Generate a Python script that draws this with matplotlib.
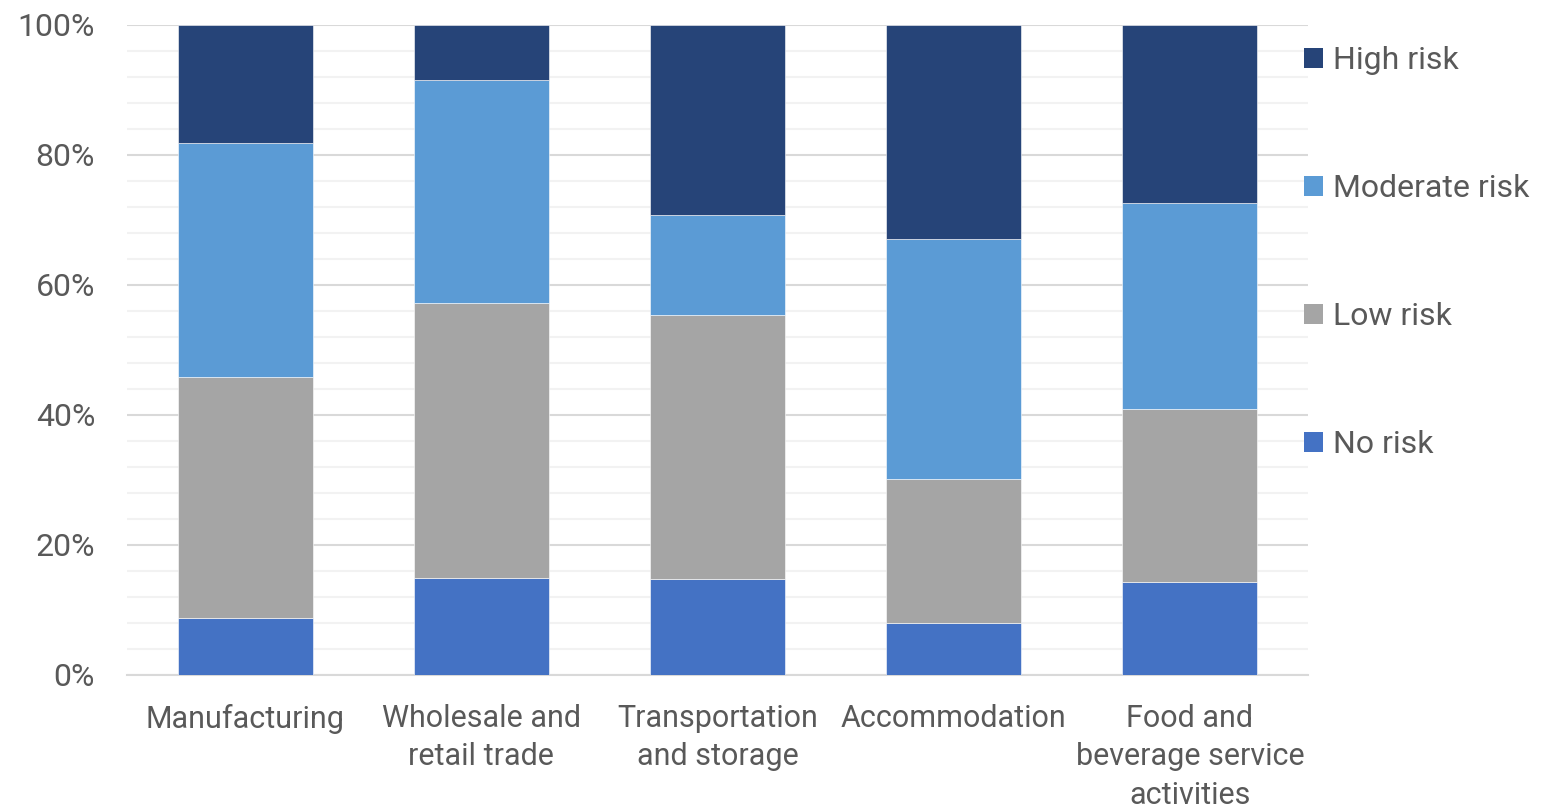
# 業種別のリスク構成比（100%積み上げ棒グラフ）
import matplotlib.pyplot as plt
import numpy as np
from matplotlib.patches import Patch
from matplotlib.ticker import MultipleLocator, PercentFormatter

plt.rcParams["font.family"] = ["Roboto", "DejaVu Sans"]

categories = ["Manufacturing", "Wholesale and\nretail trade", "Transportation\nand storage",
              "Accommodation", "Food and\nbeverage service\nactivities"]
series_names = ["No risk", "Low risk", "Moderate risk", "High risk"]
no_risk = [8.8, 14.9, 14.8, 8.0, 14.3]
low_risk = [37.0, 42.3, 40.6, 22.2, 26.6]
moderate_risk = [36.0, 34.3, 15.4, 36.9, 31.7]
high_risk = [18.2, 8.5, 29.2, 32.9, 27.4]
colors = ["#4472C4", "#A5A5A5", "#5B9BD5", "#264478"]

text_col = "#595959"

fig = plt.figure(figsize=(15.5, 8.08), dpi=100)
ax = fig.add_axes([127 / 1550, 1 - 675 / 808, (1308 - 127) / 1550, 650 / 808])

x = np.arange(len(categories))
bottom = np.zeros(len(categories))
for name, vals, c in zip(series_names, [no_risk, low_risk, moderate_risk, high_risk], colors):
    ax.bar(x, vals, width=0.571, bottom=bottom, color=c, label=name,
           edgecolor="white", linewidth=0.4, zorder=3)
    bottom += np.array(vals)

ax.set_xlim(-0.5, 4.5)
ax.set_ylim(0, 100)
ax.yaxis.set_major_locator(MultipleLocator(20))
ax.yaxis.set_minor_locator(MultipleLocator(4))
ax.yaxis.set_major_formatter(PercentFormatter(decimals=0))
ax.grid(axis="y", which="major", color="#D9D9D9", linewidth=1.5, zorder=0)
ax.grid(axis="y", which="minor", color="#F2F2F2", linewidth=1.5, zorder=0)
ax.set_axisbelow(True)

ax.set_xticks(x)
ax.set_xticklabels(categories, fontsize=22, color=text_col, linespacing=1.4)
ax.tick_params(axis="x", length=0, pad=21)
ax.tick_params(axis="y", which="both", length=0, pad=23, labelsize=23, labelcolor=text_col)

for s in ["top", "right", "left"]:
    ax.spines[s].set_visible(False)
ax.spines["bottom"].set_color("#D9D9D9")
ax.spines["bottom"].set_linewidth(1.5)

handles = [Patch(facecolor=c, label=n) for n, c in zip(series_names, colors)][::-1]
leg = fig.legend(handles=handles, loc="upper left", bbox_to_anchor=(1304 / 1550, 1 - 46 / 808),
                 frameon=False, fontsize=23, handlelength=0.6, handleheight=0.6,
                 handletextpad=0.3, labelspacing=3.1, borderpad=0, borderaxespad=0)
for t in leg.get_texts():
    t.set_color(text_col)

fig.savefig("out.png", dpi=100)
